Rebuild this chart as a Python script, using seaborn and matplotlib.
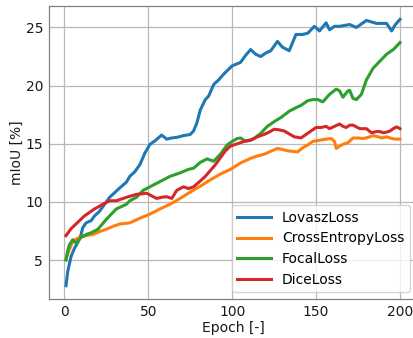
import matplotlib
matplotlib.use("Agg")
import matplotlib.pyplot as plt
import seaborn as sns
import pandas as pd

# ---- data ----
series_names = ["LovaszLoss", "CrossEntropyLoss", "FocalLoss", "DiceLoss"]

lovasz_epoch = [1, 2, 4, 6, 8, 10, 11, 13, 16, 18, 21, 24, 27, 30, 33, 37, 39, 42, 45, 48,
                51, 54, 58, 61, 64, 67, 71, 75, 77, 79, 81, 84, 86, 89, 92, 95, 100, 105, 108, 111,
                114, 117, 120, 123, 127, 130, 134, 138, 142, 145, 149, 152, 156, 158, 161, 164, 170, 174, 177, 180,
                186, 192, 195, 197, 200]
lovasz_miou = [2.8, 4.0, 5.3, 6.0, 6.5, 7.2, 7.8, 8.2, 8.4, 8.8, 9.2, 9.8, 10.4, 10.8, 11.2, 11.7, 12.2, 12.6, 13.2, 14.2,
               14.95, 15.25, 15.75, 15.4, 15.5, 15.55, 15.7, 15.8, 16.1, 16.8, 17.9, 18.8, 19.1, 20.1, 20.5, 21.0, 21.7, 22.0, 22.6, 23.1,
               22.7, 22.5, 22.8, 23.0, 23.8, 23.3, 23.0, 24.4, 24.4, 24.5, 25.1, 24.7, 25.4, 24.8, 25.1, 25.1, 25.25, 25.0, 25.3, 25.6,
               25.35, 25.35, 24.7, 25.2, 25.7]

ce_epoch = [1, 3, 5, 7, 9, 13, 17, 21, 25, 29, 33, 39, 45, 51, 57, 63, 69, 75, 81, 87,
            93, 99, 105, 111, 115, 119, 123, 127, 130, 133, 136, 139, 142, 145, 148, 152, 156, 159, 161, 162,
            164, 166, 169, 172, 175, 178, 181, 184, 187, 189, 192, 194, 197, 200]
ce_miou = [5.1, 5.9, 6.6, 6.8, 6.95, 7.1, 7.2, 7.45, 7.65, 7.9, 8.1, 8.2, 8.6, 8.95, 9.4, 9.8, 10.3, 10.85, 11.35, 11.9,
           12.4, 12.8, 13.35, 13.75, 13.95, 14.1, 14.35, 14.6, 14.5, 14.4, 14.35, 14.3, 14.65, 14.9, 15.2, 15.3, 15.4, 15.45, 15.2, 14.6,
           14.8, 14.95, 15.1, 15.5, 15.5, 15.45, 15.55, 15.7, 15.6, 15.5, 15.6, 15.5, 15.4, 15.4]

focal_epoch = [1, 2, 3, 5, 7, 10, 13, 16, 20, 25, 31, 37, 39, 43, 47, 51, 55, 59, 63, 69,
               74, 77, 81, 85, 89, 93, 97, 100, 103, 105, 107, 109, 113, 117, 121, 125, 129, 134, 138, 141,
               145, 148, 151, 154, 158, 162, 164, 166, 169, 170, 172, 174, 177, 180, 184, 188, 192, 196, 200]
focal_miou = [5.0, 5.8, 6.3, 6.75, 6.45, 6.95, 7.2, 7.35, 7.65, 8.5, 9.4, 9.8, 10.1, 10.4, 11.0, 11.3, 11.6, 11.9, 12.2, 12.5,
              12.8, 12.9, 13.4, 13.7, 13.5, 14.1, 14.9, 15.2, 15.45, 15.5, 15.3, 15.25, 15.45, 15.9, 16.5, 16.9, 17.25, 17.8, 18.1, 18.3,
              18.7, 18.8, 18.8, 18.6, 19.25, 19.7, 19.55, 19.0, 19.55, 19.6, 18.9, 18.8, 19.25, 20.5, 21.5, 22.1, 22.7, 23.1, 23.7]

dice_epoch = [1, 4, 8, 12, 18, 23, 27, 31, 37, 43, 49, 51, 55, 58, 61, 64, 67, 71, 74, 77,
              81, 84, 87, 90, 93, 96, 99, 103, 107, 111, 115, 119, 122, 125, 128, 131, 134, 137, 141, 144,
              147, 150, 153, 156, 158, 161, 164, 166, 168, 170, 172, 174, 176, 180, 183, 186, 188, 190, 192, 194,
              196, 198, 200]
dice_miou = [7.1, 7.7, 8.25, 8.8, 9.4, 9.8, 10.1, 10.1, 10.4, 10.65, 10.75, 10.6, 10.3, 10.4, 10.45, 10.3, 11.0, 11.3, 11.15, 11.3,
             11.8, 12.2, 12.7, 13.2, 13.8, 14.4, 14.8, 15.0, 15.2, 15.3, 15.6, 15.8, 16.0, 16.25, 16.2, 16.1, 15.85, 15.6, 15.5, 15.8,
             16.1, 16.4, 16.4, 16.5, 16.3, 16.5, 16.7, 16.5, 16.4, 16.6, 16.6, 16.45, 16.3, 16.3, 15.95, 16.05, 16.05, 15.95, 16.0, 16.1,
             16.3, 16.45, 16.3]

x_label = "Epoch [-]"
y_label = "mIoU [%]"
x_ticks = [0, 50, 100, 150, 200]
y_ticks = [5, 10, 15, 20, 25]

frames = []
for name, ep, val in [(series_names[0], lovasz_epoch, lovasz_miou),
                      (series_names[1], ce_epoch, ce_miou),
                      (series_names[2], focal_epoch, focal_miou),
                      (series_names[3], dice_epoch, dice_miou)]:
    frames.append(pd.DataFrame({"epoch": ep, "miou": val, "loss": name}))
df = pd.concat(frames, ignore_index=True)

# ---- style ----
plt.rcParams.update({
    "font.family": ["DejaVu Sans"],
    "font.size": 10,
    "axes.edgecolor": "0.5",
    "axes.linewidth": 0.9,
    "grid.color": "#b8b8b8",
    "grid.linewidth": 0.9,
    "xtick.major.size": 0,
    "ytick.major.size": 0,
    "xtick.major.pad": 4.5,
    "ytick.major.pad": 4.5,
    "xtick.color": "0.1",
    "ytick.color": "0.1",
    "axes.labelcolor": "0.1",
})

fig = plt.figure(figsize=(4.13, 3.38), dpi=100)
W, H = 413, 338
left_px, right_px, top_px, bottom_px = 49.3, 416.7, 6.0, 299.0
ax = fig.add_axes([left_px / W, 1 - bottom_px / H, (right_px - left_px) / W, (bottom_px - top_px) / H])

palette = ["#1f77b4", "#ff7f0e", "#2ca02c", "#d62728"]
sns.lineplot(data=df, x="epoch", y="miou", hue="loss", hue_order=series_names,
             palette=palette, linewidth=2.2, ax=ax, estimator=None, sort=True)

ax.grid(True)
ax.set_axisbelow(True)
ax.set_xticks(x_ticks)
ax.set_yticks(y_ticks)
ax.margins(x=0.05, y=0.05)
ax.set_xlabel(x_label, labelpad=1.5)
ax.set_ylabel(y_label, labelpad=1)

handles, labels = ax.get_legend_handles_labels()
leg = ax.legend(handles, labels, loc="lower right", fontsize=10, labelspacing=0.47,
                handlelength=2.4, borderpad=0.4, frameon=True)
for ln in leg.get_lines():
    ln.set_linewidth(2.2)

fig.savefig("out.png", dpi=100)
